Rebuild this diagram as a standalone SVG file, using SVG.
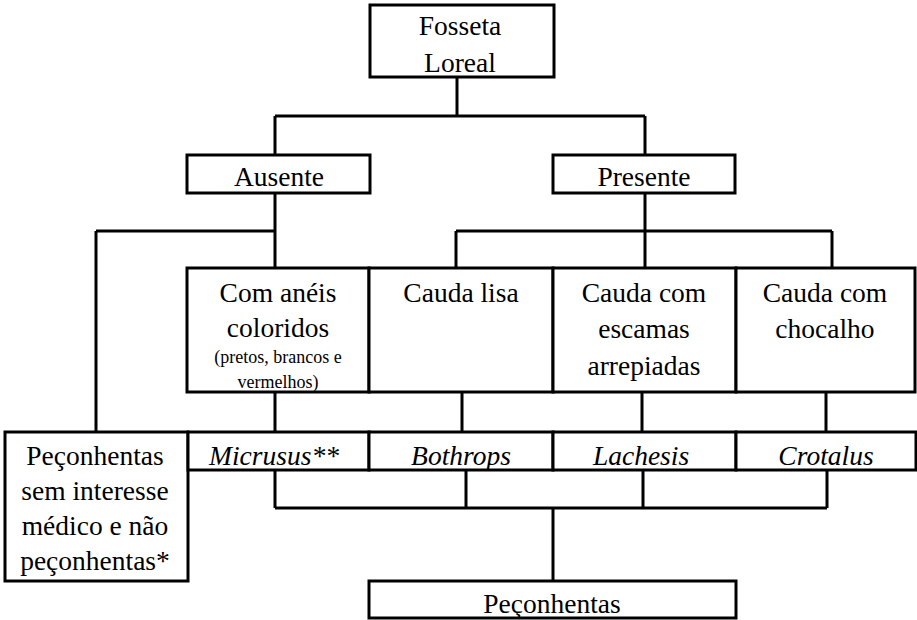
<svg xmlns="http://www.w3.org/2000/svg" width="917" height="620" viewBox="0 0 917 620">
<style>
.box{fill:#fff;stroke:#000;stroke-width:3}
.ln{fill:none;stroke:#000;stroke-width:3}
.t{font-family:'Liberation Serif','Times New Roman',serif;font-size:27.5px;fill:#000;text-anchor:middle}
.sm{font-size:18px}
.it{font-style:italic}
</style>
<rect width="917" height="620" fill="#fff"/>
<g id="connectors">
<path class="ln" d="M457 77V116M275 116H645M275 116V155M645 116V155"/>
<path class="ln" d="M275 193V268M96 231H275M96 231V432"/>
<path class="ln" d="M645 193V268M456 231H832M456 231V268M832 231V268"/>
<path class="ln" d="M275 392V432M462 392V432M642 392V432M826 392V432"/>
<path class="ln" d="M275 470V508M466 470V508M643 470V508M827 470V508M275 508H827M553 508V581"/>
</g>
<g id="fosseta"><rect class="box" x="370" y="5" width="184" height="72"/><text class="t" x="460" y="35">Fosseta</text><text class="t" x="460" y="72">Loreal</text></g>
<g id="ausente"><rect class="box" x="187" y="155" width="183" height="38"/><text class="t" x="279" y="186">Ausente</text></g>
<g id="presente"><rect class="box" x="553" y="155" width="182" height="38"/><text class="t" x="644" y="186">Presente</text></g>
<g id="aneis"><rect class="box" x="187" y="268" width="182" height="124"/><text class="t" x="278" y="302">Com anéis</text><text class="t" x="278" y="337">coloridos</text><text class="t sm" x="278" y="363">(pretos, brancos e</text><text class="t sm" x="278" y="388">vermelhos)</text></g>
<g id="lisa"><rect class="box" x="369" y="268" width="184" height="124"/><text class="t" x="461" y="302">Cauda lisa</text></g>
<g id="escamas"><rect class="box" x="553" y="268" width="183" height="124"/><text class="t" x="644" y="302">Cauda com</text><text class="t" x="644" y="338">escamas</text><text class="t" x="644" y="375">arrepiadas</text></g>
<g id="chocalho"><rect class="box" x="736" y="268" width="179" height="124"/><text class="t" x="825" y="302">Cauda com</text><text class="t" x="825" y="338">chocalho</text></g>
<g id="sem-interesse"><rect class="box" x="5" y="432" width="183" height="149"/><text class="t" x="95" y="465">Peçonhentas</text><text class="t" x="95" y="500">sem interesse</text><text class="t" x="95" y="535">médico e não</text><text class="t" x="95" y="570">peçonhentas*</text></g>
<g id="micrusus"><rect class="box" x="188" y="432" width="181" height="38"/><text class="t it" x="274" y="465">Micrusus**</text></g>
<g id="bothrops"><rect class="box" x="369" y="432" width="184" height="38"/><text class="t it" x="461" y="465">Bothrops</text></g>
<g id="lachesis"><rect class="box" x="553" y="432" width="183" height="38"/><text class="t it" x="641" y="465">Lachesis</text></g>
<g id="crotalus"><rect class="box" x="736" y="432" width="180" height="38"/><text class="t it" x="826" y="465">Crotalus</text></g>
<g id="peconhentas"><rect class="box" x="369" y="581" width="367" height="37"/><text class="t" x="552" y="613">Peçonhentas</text></g>
</svg>
